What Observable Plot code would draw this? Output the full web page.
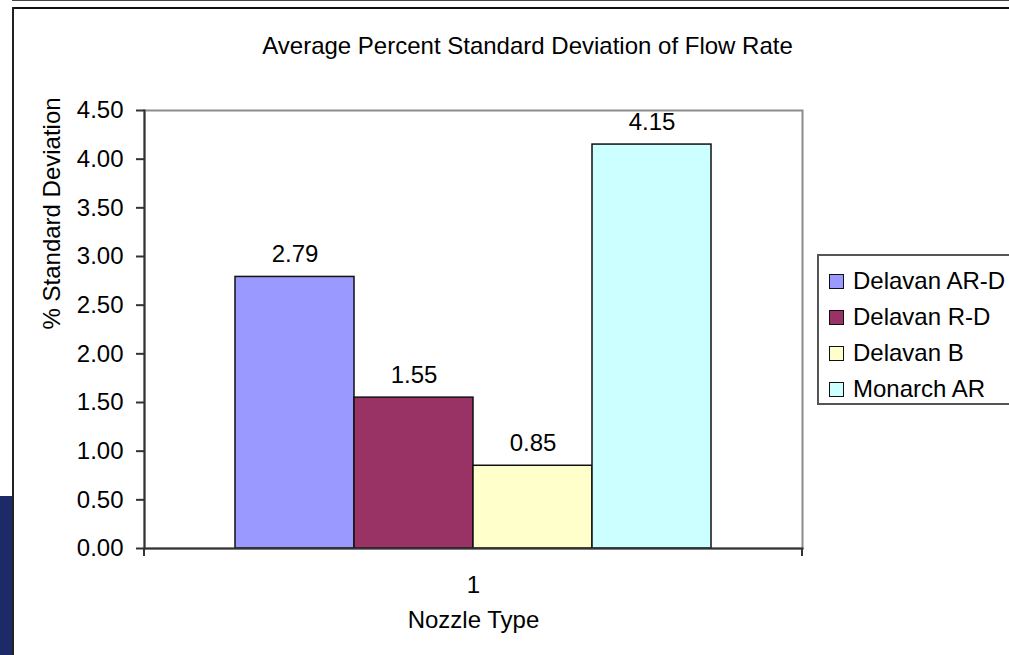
<!DOCTYPE html>
<html><head><meta charset="utf-8">
<script src="https://cdn.jsdelivr.net/npm/d3@7"></script>
<script src="https://cdn.jsdelivr.net/npm/@observablehq/plot@0.6"></script>
<style>
body{margin:0;background:#fff;}
#wrap{position:relative;width:1009px;height:655px;overflow:hidden;font-family:"Liberation Sans",Arial,sans-serif;color:#000;}
#wrap svg{position:absolute;left:0;top:0;}
.deco{position:absolute;}
.legend{position:absolute;left:817px;top:254px;width:260px;height:147px;border:2px solid #555;background:#fff;}
.li{position:absolute;left:0;height:36px;width:260px;font-size:24px;line-height:36px;white-space:nowrap;}
.sw{position:absolute;left:10px;top:11px;width:13px;height:13px;border:1.5px solid #111;}
.lt{position:absolute;left:34px;top:0;}
</style></head><body><div id="wrap"></div>
<script>
const title = "Average Percent Standard Deviation of Flow Rate";
const seriesNames = ["Delavan AR-D", "Delavan R-D", "Delavan B", "Monarch AR"];
const seriesValues = [2.79, 1.55, 0.85, 4.15];
const seriesColors = ["#9999FF", "#993366", "#FFFFCC", "#CCFFFF"];
const categories = ["1"];
const yTicks = [0, 0.5, 1, 1.5, 2, 2.5, 3, 3.5, 4, 4.5];
const yLabel = "% Standard Deviation";
const xLabel = "Nozzle Type";

const data = seriesNames.map((name, i) => ({name, value: seriesValues[i], category: categories[0]}));
const font = '"Liberation Sans", Arial, sans-serif';

const chart = Plot.plot({
  width: 1009, height: 655,
  marginLeft: 144, marginRight: 207, marginTop: 110, marginBottom: 107,
  style: {fontFamily: font, fontSize: "24px", color: "#000", background: "transparent", overflow: "visible"},
  x: {domain: seriesNames, paddingInner: 0, paddingOuter: 0.75, axis: null},
  y: {domain: [0, 4.5], axis: null},
  color: {domain: seriesNames, range: seriesColors},
  marks: [
    Plot.frame({stroke: "#8c8c8c", strokeWidth: 2}),
    Plot.barY(data, {x: "name", y: "value", fill: "name", stroke: "#111", strokeWidth: 1.5}),
    Plot.axisY({ticks: yTicks, tickFormat: d3.format(".2f"), tickSize: 8, tickPadding: 13, fontSize: 24, stroke: "#333", strokeWidth: 2, label: null}),
    Plot.frame({anchor: "left", stroke: "#333", strokeWidth: 2}),
    Plot.frame({anchor: "bottom", stroke: "#333", strokeWidth: 2}),
    Plot.text(data, {x: "name", y: "value", text: d => d.value.toFixed(2), dy: -15, lineAnchor: "bottom", fontSize: 24, fill: "#000"}),
    Plot.text(categories, {frameAnchor: "bottom", dy: 44, lineAnchor: "bottom", fontSize: 24, fill: "#000"}),
    Plot.text([xLabel], {frameAnchor: "bottom", dy: 79, lineAnchor: "bottom", fontSize: 24, fill: "#000"}),
    Plot.text([yLabel], {frameAnchor: "left", rotate: -90, dx: -85, lineAnchor: "bottom", fontSize: 24, fill: "#000"}),
    Plot.text([title], {frameAnchor: "top", dx: 54, dy: -57, lineAnchor: "bottom", fontSize: 24, fill: "#000"})
  ]
});

const wrap = document.getElementById("wrap");
function deco(l, t, w, h, c) {
  const d = document.createElement("div");
  d.className = "deco";
  Object.assign(d.style, {left: l + "px", top: t + "px", width: w + "px", height: h + "px", background: c});
  wrap.appendChild(d);
}
// page frame decorations
deco(12, 0, 1000, 1, "#444");
deco(12, 7, 1000, 2, "#111");
deco(12, 7, 2, 660, "#222");
deco(0, 496, 12, 160, "#1c2b67");
wrap.appendChild(chart);
// end ticks of category axis
deco(143, 548, 2, 8, "#333");
deco(801, 548, 2, 8, "#333");

// legend
const lg = document.createElement("div");
lg.className = "legend";
seriesNames.forEach((n, i) => {
  const row = document.createElement("div");
  row.className = "li";
  row.style.top = (7 + i * 36) + "px";
  const sw = document.createElement("div");
  sw.className = "sw";
  sw.style.background = seriesColors[i];
  const t = document.createElement("div");
  t.className = "lt";
  t.textContent = n;
  row.appendChild(sw); row.appendChild(t);
  lg.appendChild(row);
});
wrap.appendChild(lg);
</script>
</body></html>
